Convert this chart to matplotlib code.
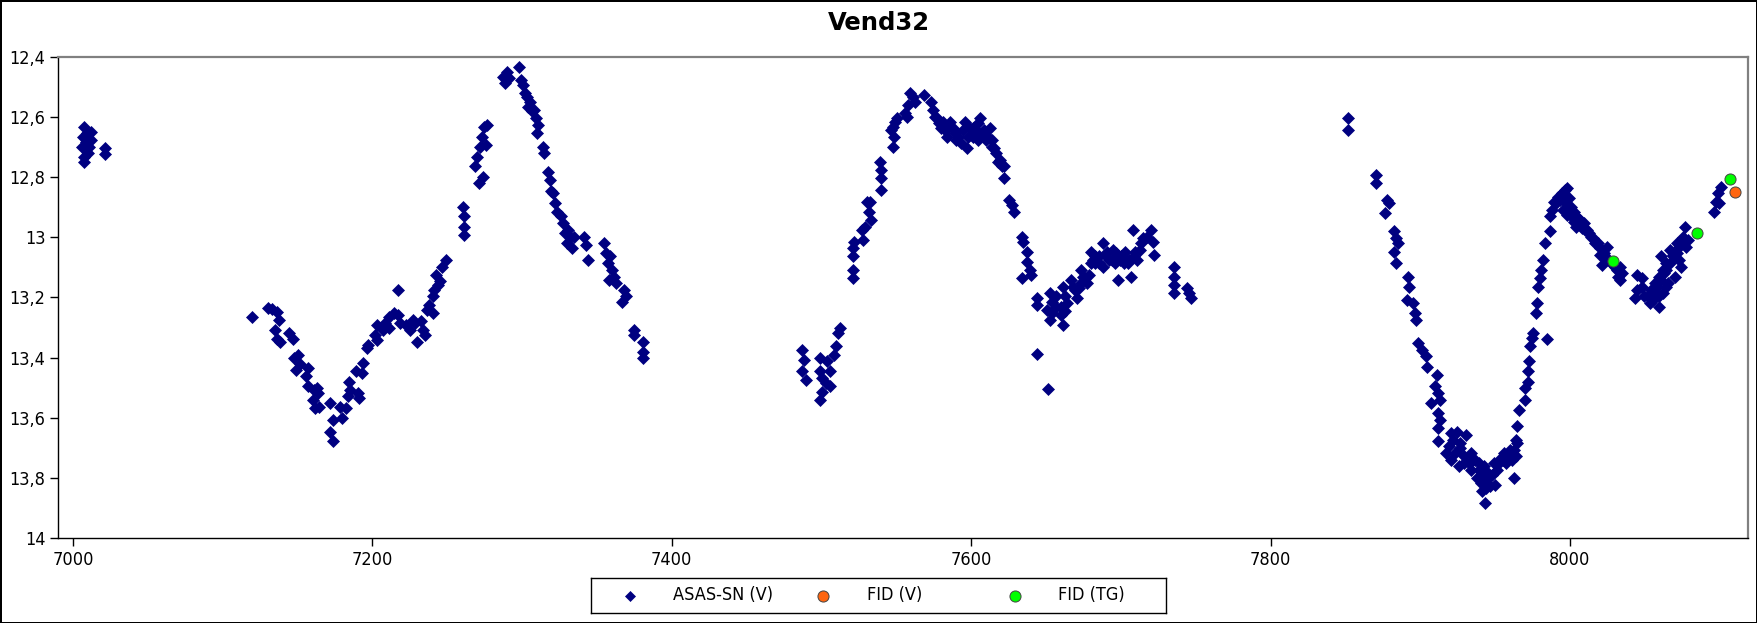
import matplotlib
matplotlib.use("Agg")
import matplotlib.pyplot as plt
from matplotlib.ticker import FixedLocator, FuncFormatter

plt.rcParams["font.family"] = ["DejaVu Sans"]
plt.rcParams["font.stretch"] = "condensed"

TITLE = "Vend32"

# ASAS-SN (V) photometry (JD - 2450000, mag)
asas_jd = [
    7005.9, 7006.7, 7007.2, 7007.7, 7007.7, 7008.5, 7009.7, 7010.2, 7011.0, 7012.3, 7012.3, 7021.3, 7021.3,
    7119.3, 7130.0, 7133.0, 7136.5, 7137.8, 7135.2, 7136.5, 7138.0, 7144.0, 7147.0, 7148.0, 7150.6, 7152.0,
    7149.3, 7157.0, 7155.7, 7157.0, 7160.8, 7162.9, 7163.4, 7160.3, 7162.0, 7164.7, 7171.6, 7171.6, 7173.6,
    7173.6, 7178.2, 7179.5, 7182.5, 7183.9, 7184.4, 7185.2, 7190.3, 7191.0, 7189.0, 7192.8, 7193.6, 7196.2,
    7197.4, 7201.9, 7203.1, 7203.1, 7207.0, 7208.3, 7210.8, 7210.8, 7214.7, 7217.2, 7217.2, 7218.4, 7222.3,
    7224.9, 7227.4, 7228.7, 7230.0, 7232.5, 7233.8, 7235.0, 7236.4, 7237.6, 7240.2, 7240.2, 7241.5, 7242.8,
    7244.0, 7245.3, 7246.5, 7249.0,
    7260.7, 7261.5, 7261.5, 7261.5, 7268.4, 7269.7, 7271.0, 7272.2, 7273.5, 7274.0, 7274.8, 7276.0, 7276.6,
    7287.6, 7288.4, 7290.2, 7291.5, 7297.9, 7299.1, 7300.4, 7301.7, 7303.0, 7303.7, 7305.5, 7306.8, 7308.0,
    7309.3, 7310.6, 7309.9, 7314.0, 7315.0, 7317.6, 7318.9, 7319.6, 7320.9, 7322.2, 7323.4, 7326.0, 7327.3,
    7328.5, 7329.8, 7331.0, 7332.3, 7333.6, 7334.9, 7341.3, 7342.6, 7344.3, 7354.8, 7356.1, 7357.5, 7358.8,
    7360.0, 7361.4, 7362.7, 7358.0, 7368.0, 7367.0, 7369.5, 7374.6, 7374.6, 7380.7, 7380.7, 7380.7,
    7487.0, 7488.3, 7487.0, 7489.7, 7499.0, 7499.0, 7500.3, 7499.0, 7500.3, 7503.0, 7504.0, 7505.4, 7505.4,
    7508.2, 7509.5, 7511.4, 7512.2,
    7520.9, 7520.9, 7521.4, 7521.4, 7522.0, 7528.0, 7527.2, 7528.8, 7530.7, 7532.4, 7531.5, 7533.3, 7539.4,
    7540.0, 7540.0, 7540.0, 7546.6, 7548.0, 7548.4, 7549.2, 7548.0, 7550.5, 7556.0, 7558.0, 7559.3, 7561.2,
    7562.5, 7557.0, 7568.5, 7573.0, 7574.3, 7575.7, 7578.3, 7579.6, 7581.0, 7583.6, 7586.2, 7587.6, 7591.5,
    7593.0, 7595.6, 7597.0, 7599.5, 7601.0, 7603.4, 7606.0, 7607.4, 7610.0, 7612.7, 7614.0, 7616.7, 7618.0,
    7620.6, 7622.0, 7625.1, 7627.2, 7628.6,
    7577.0, 7582.3, 7584.9, 7588.9, 7590.2, 7594.3, 7598.1, 7602.1, 7604.8, 7608.7, 7611.4, 7614.0, 7615.4,
    7619.3, 7622.0, 7604.8, 7601.0,
    7633.9, 7634.7, 7637.3, 7637.3, 7639.0, 7633.9, 7640.2, 7643.7, 7643.7, 7643.9, 7651.6, 7652.4, 7650.5,
    7653.7, 7652.4, 7656.4, 7660.3, 7660.3, 7661.6, 7663.0, 7661.6, 7666.9, 7668.2, 7670.8, 7672.0, 7673.5,
    7674.8, 7677.4, 7678.7, 7680.0, 7681.4, 7682.8, 7685.4, 7688.1, 7688.1, 7690.7, 7692.0, 7694.7, 7696.0,
    7698.1, 7700.0, 7702.6, 7705.3, 7706.6, 7707.9, 7709.3, 7710.6, 7713.2, 7714.6, 7717.2, 7719.9, 7721.2,
    7722.0, 7735.8, 7735.8, 7735.8, 7735.8, 7744.0, 7745.3, 7746.6,
    7669.6, 7673.5, 7676.1, 7680.0, 7682.8, 7685.4, 7690.1, 7694.1, 7696.7, 7699.3, 7702.0, 7704.6, 7708.6,
    7712.5, 7663.0, 7664.3, 7656.4, 7653.7,
    7852.0, 7852.0, 7870.4, 7870.4, 7877.8, 7879.0, 7876.6, 7882.7, 7883.9, 7885.2, 7882.7, 7883.9, 7892.0,
    7892.5, 7891.3, 7895.0, 7896.2, 7897.4, 7898.7, 7901.1, 7903.6, 7904.8, 7910.9, 7909.7, 7912.1, 7913.4,
    7907.2, 7912.1, 7913.4, 7912.1, 7912.1, 7920.7, 7924.4, 7930.6, 7919.5, 7923.2, 7926.9, 7929.3, 7934.2,
    7925.7, 7932.3, 7936.7, 7934.2, 7939.1, 7941.6, 7937.9, 7940.4, 7945.3, 7941.6, 7943.1, 7950.2, 7949.0,
    7951.5, 7953.9, 7956.3, 7957.5, 7960.0, 7962.5, 7961.2, 7963.7, 7964.2, 7964.9, 7966.1, 7969.8, 7969.8,
    7972.3, 7972.3, 7973.0, 7973.5, 7974.7, 7975.5, 7984.5, 7977.2, 7978.0, 7978.4, 7979.7, 7980.4, 7982.1,
    7983.3, 7987.0, 7987.0, 7988.2, 7989.5, 7991.9, 7994.4, 7996.8, 7998.0, 7999.3, 7995.6, 7998.0, 8000.5,
    8002.9, 8005.4, 8004.2, 8009.1, 8010.3, 8012.8, 8015.2, 8017.7, 8020.1, 8022.6, 8025.0, 8026.3, 8021.4,
    8031.2, 8032.4, 8033.6, 8044.7, 8048.3, 8044.7, 8043.4, 8048.3, 8049.6, 8053.3, 8054.5, 8057.0, 8059.4,
    8059.4, 8060.7, 8061.9, 8064.3, 8065.5, 8066.8, 8069.2, 8070.5, 8071.7, 8072.9, 8074.1, 8075.4, 8076.6,
    8077.8, 8079.0, 8096.2, 8097.4, 8098.7, 8099.9, 8101.1,
    7922.0, 7926.9, 7929.3, 7935.5, 7939.1, 7942.8, 7944.0, 7946.5, 7944.0, 7947.7, 7952.7, 7955.1, 7958.8,
    7962.5, 7964.9, 7917.1, 7920.7,
    7990.7, 7993.2, 7996.8, 8000.5, 8002.9, 8006.6, 8007.9, 8011.6, 8014.0, 8016.5, 8019.0, 8020.1, 8023.8,
    8027.5, 8029.9, 8032.4, 8034.8, 8033.6,
    8055.7, 8058.2, 8060.7, 8063.1, 8064.3, 8066.8, 8069.2, 8071.7, 8072.9, 8075.4, 8052.0, 8055.7, 8059.4,
    8061.9, 8064.3,
]
asas_mag = [
    12.699, 12.666, 12.732, 12.633, 12.749, 12.682, 12.655, 12.721, 12.699, 12.649, 12.677, 12.705, 12.723,
    13.266, 13.236, 13.240, 13.250, 13.275, 13.308, 13.340, 13.350, 13.320, 13.340, 13.400, 13.390, 13.420,
    13.440, 13.435, 13.463, 13.496, 13.507, 13.500, 13.518, 13.540, 13.568, 13.563, 13.552, 13.646, 13.679,
    13.607, 13.563, 13.600, 13.568, 13.529, 13.480, 13.507, 13.518, 13.535, 13.446, 13.452, 13.419, 13.369,
    13.358, 13.325, 13.341, 13.291, 13.308, 13.286, 13.264, 13.303, 13.253, 13.175, 13.259, 13.286, 13.291,
    13.308, 13.275, 13.286, 13.347, 13.280, 13.308, 13.325, 13.242, 13.225, 13.253, 13.197, 13.175, 13.125,
    13.158, 13.147, 13.098, 13.075,
    12.898, 12.931, 12.965, 12.992, 12.765, 12.732, 12.821, 12.700, 12.666, 12.799, 12.633, 12.694, 12.627,
    12.466, 12.488, 12.450, 12.472, 12.433, 12.478, 12.494, 12.522, 12.533, 12.566, 12.549, 12.582, 12.577,
    12.605, 12.627, 12.655, 12.699, 12.721, 12.782, 12.810, 12.848, 12.854, 12.887, 12.915, 12.931, 12.954,
    12.987, 13.020, 12.976, 12.998, 13.037, 13.000, 13.000, 13.026, 13.075, 13.020, 13.053, 13.087, 13.064,
    13.109, 13.131, 13.153, 13.142, 13.175, 13.214, 13.197, 13.308, 13.325, 13.347, 13.380, 13.402,
    13.374, 13.408, 13.446, 13.474, 13.402, 13.446, 13.469, 13.541, 13.513, 13.485, 13.413, 13.446, 13.496,
    13.391, 13.363, 13.319, 13.302,
    13.136, 13.108, 13.064, 13.037, 13.015, 13.009, 12.976, 12.965, 12.882, 12.882, 12.915, 12.943, 12.749,
    12.777, 12.804, 12.843, 12.644, 12.633, 12.666, 12.616, 12.699, 12.605, 12.588, 12.560, 12.522, 12.533,
    12.549, 12.600, 12.527, 12.549, 12.577, 12.600, 12.621, 12.638, 12.616, 12.666, 12.616, 12.638, 12.666,
    12.688, 12.616, 12.705, 12.638, 12.666, 12.644, 12.605, 12.655, 12.677, 12.638, 12.699, 12.721, 12.749,
    12.765, 12.804, 12.876, 12.893, 12.915,
    12.605, 12.644, 12.633, 12.655, 12.677, 12.644, 12.666, 12.655, 12.677, 12.644, 12.666, 12.677, 12.705,
    12.744, 12.765, 12.621, 12.638,
    12.998, 13.015, 13.048, 13.081, 13.109, 13.136, 13.125, 13.203, 13.225, 13.388, 13.505, 13.186, 13.242,
    13.214, 13.275, 13.197, 13.231, 13.258, 13.291, 13.247, 13.164, 13.142, 13.164, 13.203, 13.170, 13.109,
    13.131, 13.153, 13.125, 13.048, 13.075, 13.087, 13.064, 13.020, 13.098, 13.048, 13.075, 13.042, 13.087,
    13.142, 13.064, 13.048, 13.075, 13.131, 12.976, 13.048, 13.075, 13.020, 13.003, 12.998, 12.976, 13.015,
    13.059, 13.098, 13.131, 13.158, 13.186, 13.170, 13.186, 13.203,
    13.175, 13.153, 13.136, 13.087, 13.064, 13.087, 13.064, 13.075, 13.053, 13.075, 13.087, 13.087, 13.064,
    13.042, 13.197, 13.219, 13.231, 13.253,
    12.605, 12.644, 12.793, 12.821, 12.876, 12.887, 12.920, 12.981, 13.003, 13.020, 13.048, 13.087, 13.131,
    13.164, 13.208, 13.219, 13.253, 13.275, 13.352, 13.374, 13.396, 13.430, 13.457, 13.496, 13.518, 13.540,
    13.552, 13.585, 13.607, 13.635, 13.679, 13.651, 13.646, 13.657, 13.695, 13.718, 13.701, 13.729, 13.718,
    13.762, 13.751, 13.740, 13.773, 13.773, 13.795, 13.800, 13.817, 13.784, 13.845, 13.882, 13.823, 13.751,
    13.773, 13.734, 13.718, 13.751, 13.707, 13.801, 13.740, 13.729, 13.673, 13.629, 13.574, 13.540, 13.502,
    13.480, 13.446, 13.413, 13.363, 13.336, 13.319, 13.339, 13.253, 13.219, 13.164, 13.136, 13.109, 13.075,
    13.020, 12.981, 12.931, 12.909, 12.882, 12.865, 12.854, 12.843, 12.837, 12.871, 12.909, 12.926, 12.898,
    12.915, 12.937, 12.965, 12.954, 12.976, 12.987, 13.003, 13.020, 13.037, 13.053, 13.031, 13.075, 13.092,
    13.109, 13.131, 13.142, 13.125, 13.136, 13.175, 13.203, 13.164, 13.197, 13.219, 13.175, 13.153, 13.131,
    13.231, 13.064, 13.109, 13.087, 13.153, 13.042, 13.059, 13.131, 13.020, 13.075, 13.098, 12.998, 12.965,
    13.031, 13.009, 12.915, 12.882, 12.854, 12.887, 12.832,
    13.673, 13.684, 13.751, 13.740, 13.751, 13.762, 13.806, 13.828, 13.834, 13.790, 13.751, 13.740, 13.729,
    13.707, 13.684, 13.718, 13.740,
    12.887, 12.876, 12.882, 12.931, 12.948, 12.943, 12.970, 12.976, 12.998, 13.020, 13.020, 13.059, 13.075,
    13.087, 13.098, 13.109, 13.120, 13.098,
    13.186, 13.164, 13.142, 13.120, 13.109, 13.087, 13.064, 13.053, 13.031, 13.020, 13.197, 13.208, 13.197,
    13.186, 13.164,
]

# FID photometry
fid_v_jd = [8110.2]
fid_v_mag = [12.851]
fid_tg_jd = [8028.7, 8084.7, 8107.2]
fid_tg_mag = [13.079, 12.987, 12.807]

labels = ["ASAS-SN (V)", "FID (V)", "FID (TG)"]
xticks = [7000, 7200, 7400, 7600, 7800, 8000]
yticks = [12.4, 12.6, 12.8, 13.0, 13.2, 13.4, 13.6, 13.8, 14.0]

NAVY = "#000080"
ORANGE = "#ff6611"
GREEN = "#00ff00"
FS = 13

fig = plt.figure(figsize=(17.57, 6.23), dpi=100)
fig.patch.set_edgecolor("black")
fig.patch.set_linewidth(2)

ax = fig.add_axes([0.0330, 0.1364, 0.9619, 0.7726])
ax.plot(asas_jd, asas_mag, ls="none", marker="D", ms=6.0, mfc=NAVY, mec=NAVY, mew=0.5, zorder=3)
ax.plot(fid_v_jd, fid_v_mag, ls="none", marker="o", ms=8, mfc=ORANGE, mec="#444444", mew=0.7, zorder=4)
ax.plot(fid_tg_jd, fid_tg_mag, ls="none", marker="o", ms=8, mfc=GREEN, mec="#444444", mew=0.7, zorder=4)

ax.set_xlim(6990, 8119)
ax.set_ylim(14.0, 12.4)
ax.xaxis.set_major_locator(FixedLocator(xticks))
ax.yaxis.set_major_locator(FixedLocator(yticks))
ax.yaxis.set_major_formatter(FuncFormatter(lambda v, p: f"{v:g}".replace(".", ",")))
ax.tick_params(direction="out", length=6, width=1, labelsize=FS, pad=3, colors="black")
for s in ("top", "right"):
    ax.spines[s].set_color("#808080")
    ax.spines[s].set_linewidth(1.6)
for s in ("left", "bottom"):
    ax.spines[s].set_linewidth(1.0)

fig.suptitle(TITLE, y=1 - 23 / 623, va="center", fontsize=17.5, fontweight="bold",
             fontstretch="normal")

# legend box with equal-width columns
lax = fig.add_axes([591 / 1757, 10 / 623, 575 / 1757, 35 / 623])
lax.set_xlim(0, 1)
lax.set_ylim(0, 1)
lax.set_xticks([])
lax.set_yticks([])
for s in lax.spines.values():
    s.set_linewidth(1.0)
styles = [
    dict(marker="D", ms=5.5, mfc=NAVY, mec=NAVY, mew=0.5),
    dict(marker="o", ms=8, mfc=ORANGE, mec="#444444", mew=0.7),
    dict(marker="o", ms=8, mfc=GREEN, mec="#444444", mew=0.7),
]
mpos = [0.0678, 0.4035, 0.7374]
tpos = [0.1426, 0.4800, 0.8120]
for lab, st, mx, tx in zip(labels, styles, mpos, tpos):
    lax.plot([mx], [0.5], ls="none", **st)
    lax.text(tx, 0.5, lab, fontsize=FS, va="center", ha="left")

fig.savefig("out.png", dpi=100)
